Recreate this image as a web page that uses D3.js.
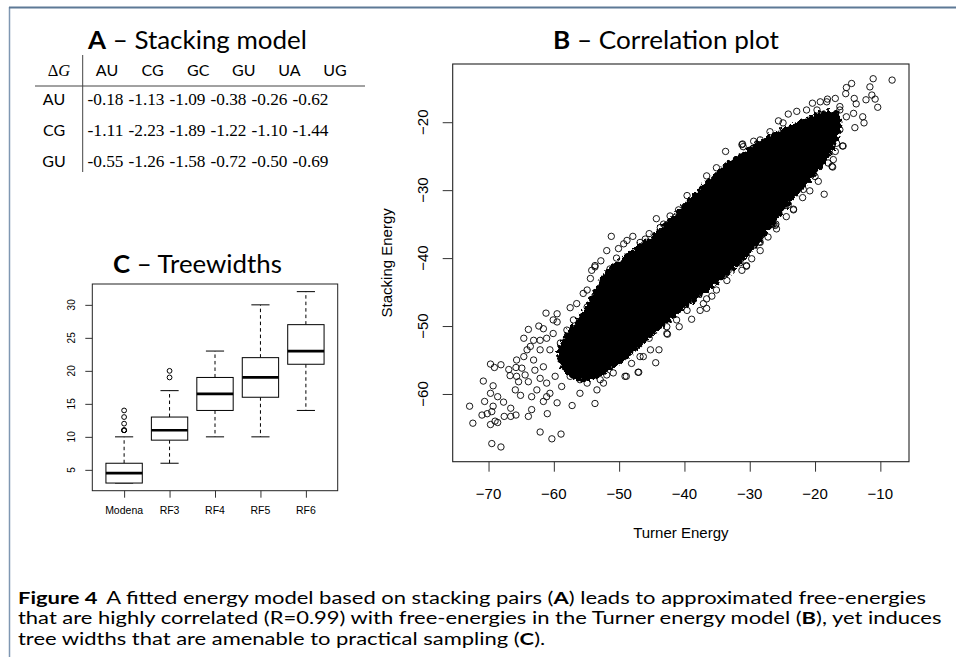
<!DOCTYPE html>
<html><head><meta charset="utf-8">
<script src="https://cdn.jsdelivr.net/npm/d3@7"></script>
<style>body{margin:0;background:#fff;overflow:hidden}</style>
</head><body>
<svg id="c" width="956" height="657" xmlns="http://www.w3.org/2000/svg"></svg>
<script>
// ---------------- data ----------------
const stackCols = ["AU","CG","GC","GU","UA","UG"];
const stackRows = ["AU","CG","GU"];
const stackValues = [
  [-0.18,-1.13,-1.09,-0.38,-0.26,-0.62],
  [-1.11,-2.23,-1.89,-1.22,-1.10,-1.44],
  [-0.55,-1.26,-1.58,-0.72,-0.50,-0.69]
];
const twCategories = ["Modena","RF3","RF4","RF5","RF6"];
const twLowerWhisker = [3,6,10,10,14];
const twQ1 = [3,9.5,14,16,21];
const twMedian = [4.5,11,16.5,19,23];
const twQ3 = [6,13,19,22,27];
const twUpperWhisker = [10,17,23,30,32];
const twOutliers = [[11,11,11,12,13,14],[19,20],[],[],[]];
const twTicks = [5,10,15,20,25,30];
const turnerTicks = [-70,-60,-50,-40,-30,-20,-10];
const stackingTicks = [-60,-50,-40,-30,-20];
// individually visible points [Turner energy, Stacking energy]
const scatterPoints = [
 [-72.9,-61.8],[-72.4,-64.3],[-70.8,-58.1],[-69.7,-55.6],[-69.1,-56.1],[-68.1,-55.7],[-69.3,-58.8],[-69.7,-59.9],
 [-70.6,-61.1],[-69.3,-61.8],[-71.0,-63.1],[-70.2,-62.9],[-69.5,-62.6],[-69.7,-64.5],[-69.0,-64.0],[-68.6,-64.2],
 [-68.6,-60.4],[-67.7,-61.2],[-67.6,-63.3],[-66.6,-62.1],[-66.7,-57.3],[-66.9,-56.4],[-65.8,-56.1],[-66.6,-63.3],
 [-65.8,-63.1],[-65.9,-59.4],[-65.1,-60.2],[-65.4,-58.2],[-69.5,-67.3],[-68.1,-67.8],[-62.1,-65.6],[-60.3,-66.6],
 [-58.9,-65.9],[-53.7,-61.4],[-63.9,-63.3],[-63.4,-62.3],[-61.0,-62.9],[-64.6,-51.8],[-63.9,-50.5],[-62.3,-50.0],
 [-61.2,-48.1],[-60.1,-49.1],[-59.5,-48.2],[-57.5,-47.3],[-56.5,-46.7],[-54.4,-43.0],[-53.7,-41.1],[-52.8,-40.4],
 [-51.4,-41.6],[-50.4,-40.0],[-49.1,-57.4],[-47.0,-56.8],[-46.8,-54.5],[-55.5,-45.2],[-63.6,-53.0],[-64.4,-57.2],
 [-63.1,-55.0],[-62.1,-52.1],[-61.1,-51.8],[-62.6,-59.4],[-61.1,-60.4],[-59.5,-61.3],[-57.2,-61.7],[-56.0,-59.9],
 [-54.9,-58.4],[-51.9,-57.2],[-61.6,-61.1],[-63.4,-60.4],
 [-64.1,-53.5],[-63.1,-52.1],[-62.1,-53.5],[-62.9,-56.5],[-61.6,-56.0],[-60.6,-53.5],[-60.1,-51.1],[-59.0,-52.5],
 [-58.0,-50.6],[-58.5,-54.5],[-59.8,-57.4],[-61.1,-58.4],[-62.1,-57.7],[-58.8,-58.9],[-57.5,-57.4],[-57.0,-55.4],
 [-56.5,-53.5],[-56.0,-51.6],[-57.0,-49.1],[-55.5,-48.7],[-54.9,-47.2],[-54.4,-50.6],[-54.2,-53.5],[-54.9,-56.5],
 [-56.0,-57.9],[-64.6,-54.5],[-64.9,-56.2],[-63.9,-58.2],[-60.6,-59.9],[-59.5,-49.4],[-61.6,-50.4],[-65.7,-55.0],
 [-53.4,-59.4],[-52.9,-57.9],[-65.7,-57.4],
 [-8.2,-13.8],[-11.1,-13.6],[-11.6,-14.8],[-14.4,-14.3],[-15.2,-14.9],[-15.3,-15.8],[-14.0,-16.5],[-13.7,-17.3],
 [-12.2,-16.7],[-11.3,-16.0],[-10.8,-16.6],[-10.4,-17.8],[-12.7,-19.2],[-12.5,-20.1],[-13.9,-20.8],[-15.8,-23.5],
 [-16.7,-23.1],[-17.2,-25.5],[-17.4,-26.5],[-18.6,-30.6],[-19.5,-28.7],[-20.8,-30.1],[-21.9,-31.1],[-23.3,-32.8],
 [-24.4,-33.9],[-26.0,-35.0],[-28.4,-37.7],[-30.5,-41.1],[-16.9,-16.5],[-18.1,-16.6],[-19.2,-17.0],[-20.4,-17.2],
 [-22.8,-18.4],[-24.1,-18.8],[-25.6,-19.8],[-28.4,-22.6],[-29.4,-22.8],[-31.1,-23.2],[-33.7,-24.3],[-19.7,-18.2],
 [-15.2,-19.2],[-16.2,-18.2],[-14.1,-18.7],
 [-31.0,-23.6],[-26.9,-21.4],[-24.9,-20.1],[-21.3,-18.2],[-18.2,-17.0],[-16.2,-17.7],
 [-16.2,-21.1],[-16.9,-24.3],[-18.0,-26.0],[-20.0,-28.0],[-21.8,-29.9],[-24.1,-32.1],[-26.4,-34.3],[-28.7,-36.7],
 [-51.2,-36.8],[-47.9,-36.8],[-45.4,-36.4],[-44.3,-34.2],[-42.2,-33.8],[-40.9,-32.9],[-39.6,-30.8],[-49.3,-37.9],
 [-53.7,-41.3],[-54.9,-44.7],[-48.9,-57.4],[-47.1,-56.8],[-44.4,-55.4],[-45.2,-53.5],[-43.9,-53.5],[-42.6,-51.2],
 [-40.8,-50.1],[-38.9,-49.0],[-37.6,-47.7],[-36.6,-47.4],[-35.8,-45.6],[-36.6,-46.0],[-33.3,-41.8],[-31.5,-40.7],
 [-30.5,-41.2],[-28.5,-37.6],[-26.4,-35.0],[-45.4,-51.8],
 [-54.2,-41.8],[-51.9,-38.9],[-50.1,-38.6],[-48.8,-37.4],[-46.8,-37.7],[-46.0,-37.2],[-43.7,-35.5],[-43.2,-35.0],
 [-41.4,-34.0],[-39.9,-32.5],[-38.1,-31.6],[-37.1,-29.9],[-35.3,-29.1],[-34.5,-28.2],
 [-52.4,-58.4],[-50.9,-56.9],[-48.1,-55.5],[-46.3,-54.5],[-42.7,-50.1],[-41.2,-49.1],[-39.6,-47.7],[-37.1,-46.7],
 [-35.1,-44.7],[-33.5,-43.3],[-31.2,-41.8],[-29.7,-40.1],[-28.4,-38.9],[-27.2,-36.9],[-25.9,-35.7],
 [-31.2,-23.3],[-36.6,-27.9],[-35.1,-26.7],[-17.3,-26.6],[-15.7,-23.5],[-23.3,-32.9],[-26.1,-35.2],[-42.7,-51.1]
];
// outline of the region where circles overlap into a solid black mass
const denseCore = [
 [-58.5,-51.5],[-56,-48.3],[-54,-45],[-52,-41.8],[-50,-40.2],[-47.5,-38.4],[-44,-35.7],[-40.5,-32.4],[-37,-29],
 [-33.5,-25.9],[-29,-23],[-25,-20.9],[-21,-19.2],[-18,-18.2],[-16.3,-18.6],
 [-16,-20.7],[-17.1,-23.8],[-18.9,-26.7],[-21.7,-29.7],[-24.7,-33.1],[-28,-37.2],[-31,-40.5],[-35,-43.9],
 [-38.5,-46.4],[-42,-49.1],[-45.5,-52],[-49,-55],[-52.5,-57.2],[-55.5,-58.2],[-58.2,-57],[-59.5,-54.3]
];
const captionLines = [
  [["Figure 4",true],[" A fitted energy model based on stacking pairs (",false],["A",true],[") leads to approximated free-energies",false]],
  [["that are highly correlated (R=0.99) with free-energies in the Turner energy model (",false],["B",true],["), yet induces",false]],
  [["tree widths that are amenable to practical sampling (",false],["C",true],[").",false]]
];

// ---------------- drawing ----------------
const svg = d3.select("#c");
const SANS = "Lato, 'Open Sans', sans-serif";
const RFONT = "'Liberation Sans', Arial, sans-serif";
const SERIF = "'Liberation Serif', 'DejaVu Serif', serif";

function hscale(t, ax, s){
  t.attr("transform",`translate(${ax},0) scale(${s},1) translate(${-ax},0)`);
}
function fitMiddle(t, cxp, width){
  hscale(t, cxp, width/t.node().getComputedTextLength());
}

// frame
svg.append("line").attr("x1",9.5).attr("x2",9.5).attr("y1",7).attr("y2",657)
  .attr("stroke","#7f97b2").attr("stroke-width",1.5);
svg.append("line").attr("x1",9).attr("x2",956).attr("y1",7.5).attr("y2",7.5)
  .attr("stroke","#5d7996").attr("stroke-width",2);

// ---- Panel A ----
const gA = svg.append("g");
const tA = gA.append("text").attr("x",197.5).attr("y",49).attr("text-anchor","middle")
  .attr("font-family",SANS).attr("font-size",25).attr("fill","#000");
tA.append("tspan").attr("font-weight","bold").text("A");
tA.append("tspan").text(" – Stacking model");
fitMiddle(tA,197.5,219);

const hx = d3.scalePoint().domain(stackCols).range([107,335]);
const vx = d3.scalePoint().domain(stackCols).range([105.5,310.5]);
const ry = d3.scalePoint().domain(stackRows).range([99.5,161]);

const dg = gA.append("text").attr("x",59).attr("y",75.5).attr("text-anchor","middle")
  .attr("font-family",SERIF).attr("font-size",16.5);
dg.append("tspan").text("Δ");
dg.append("tspan").attr("font-style","italic").text("G");

gA.selectAll(".hdr").data(stackCols).join("text")
  .attr("x",d=>hx(d)).attr("y",75.5).attr("text-anchor","middle")
  .attr("font-family",SANS).attr("font-size",16).text(d=>d);
gA.selectAll(".rl").data(stackRows).join("text")
  .attr("x",54).attr("y",d=>ry(d)+5.5).attr("text-anchor","middle")
  .attr("font-family",SANS).attr("font-size",16).text(d=>d);
stackRows.forEach((r,i)=>{
  gA.selectAll(".v"+i).data(stackValues[i]).join("text")
    .attr("x",(d,j)=>vx(stackCols[j])).attr("y",ry(r)+5.5).attr("text-anchor","middle")
    .attr("font-family",SERIF).attr("font-size",16.5)
    .attr("textLength",36).attr("lengthAdjust","spacingAndGlyphs")
    .text(d=>d.toFixed(2));
});
gA.append("line").attr("x1",82.7).attr("x2",82.7).attr("y1",55).attr("y2",172)
  .attr("stroke","#444").attr("stroke-width",1);
gA.append("line").attr("x1",35).attr("x2",365).attr("y1",86).attr("y2",86)
  .attr("stroke","#444").attr("stroke-width",1);

// ---- Panel C : boxplot ----
const gC = svg.append("g");
const cL=92.3, cR=337.7, cT=284, cB=490.7;
const cx = d3.scaleLinear().domain([0.3,5.7]).range([cL,cR]);
const allTw = twLowerWhisker.concat(twUpperWhisker, ...twOutliers);
const twMin = d3.min(allTw), twMax = d3.max(allTw), twPad = (twMax-twMin)*0.04;
const cy = d3.scaleLinear().domain([twMin-twPad, twMax+twPad]).range([cB,cT]);

const tC = gC.append("text").attr("x",197.5).attr("y",273.5).attr("text-anchor","middle")
  .attr("font-family",SANS).attr("font-size",25);
tC.append("tspan").attr("font-weight","bold").text("C");
tC.append("tspan").text(" – Treewidths");
fitMiddle(tC,197.5,169);

const bw = 0.8;
twCategories.forEach((c,i)=>{
  const x0 = cx(i+1);
  const g = gC.append("g");
  g.append("line").attr("x1",x0).attr("x2",x0).attr("y1",cy(twQ3[i])).attr("y2",cy(twUpperWhisker[i]))
    .attr("stroke","#000").attr("stroke-dasharray","3.5,3").attr("stroke-width",1);
  g.append("line").attr("x1",x0).attr("x2",x0).attr("y1",cy(twQ1[i])).attr("y2",cy(twLowerWhisker[i]))
    .attr("stroke","#000").attr("stroke-dasharray","3.5,3").attr("stroke-width",1);
  const hw = (cx(1+bw/4)-cx(1));
  [twUpperWhisker[i], twLowerWhisker[i]].forEach(v=>{
    g.append("line").attr("x1",x0-hw).attr("x2",x0+hw).attr("y1",cy(v)).attr("y2",cy(v))
      .attr("stroke","#000").attr("stroke-width",1);
  });
  const bh = cx(1+bw/2)-cx(1);
  g.append("rect").attr("x",x0-bh).attr("width",2*bh)
    .attr("y",cy(twQ3[i])).attr("height",cy(twQ1[i])-cy(twQ3[i]))
    .attr("fill","#fff").attr("stroke","#000").attr("stroke-width",1);
  g.append("line").attr("x1",x0-bh).attr("x2",x0+bh).attr("y1",cy(twMedian[i])).attr("y2",cy(twMedian[i]))
    .attr("stroke","#000").attr("stroke-width",2.7);
  g.selectAll("circle").data(twOutliers[i]).join("circle")
    .attr("cx",x0).attr("cy",d=>cy(d)).attr("r",2.4)
    .attr("fill","none").attr("stroke","#000").attr("stroke-width",1);
});
gC.append("rect").attr("x",cL).attr("y",cT).attr("width",cR-cL).attr("height",cB-cT)
  .attr("fill","none").attr("stroke","#222").attr("stroke-width",1);
const cxAxis = gC.append("g").attr("transform",`translate(0,${cB})`)
  .call(d3.axisBottom(cx).tickValues(twCategories.map((d,i)=>i+1)).tickSize(7).tickFormat(""));
cxAxis.select(".domain").remove();
cxAxis.selectAll("line").attr("stroke","#333");
gC.selectAll(".cl").data(twCategories).join("text")
  .attr("x",(d,i)=>cx(i+1)).attr("y",514).attr("text-anchor","middle")
  .attr("font-family",RFONT).attr("font-size",10.5).text(d=>d);
const cyAxis = gC.append("g").attr("transform",`translate(${cL},0)`)
  .call(d3.axisLeft(cy).tickValues(twTicks).tickSize(7).tickFormat(""));
cyAxis.select(".domain").remove();
cyAxis.selectAll("line").attr("stroke","#333");
gC.selectAll(".ctl").data(twTicks).join("text")
  .attr("transform",d=>`translate(71.7,${cy(d)}) rotate(-90)`).attr("dy","0.35em")
  .attr("text-anchor","middle").attr("font-family",RFONT).attr("font-size",10).text(d=>d);

// ---- Panel B : scatter ----
const gB = svg.append("g");
const bL=452.7, bR=909, bT=64, bB=461.7;
const xe = d3.extent(scatterPoints,d=>d[0]), ye = d3.extent(scatterPoints,d=>d[1]);
const xp = (xe[1]-xe[0])*0.04, yp = (ye[1]-ye[0])*0.04;
const bx = d3.scaleLinear().domain([xe[0]-xp, xe[1]+xp]).range([bL,bR]);
const by = d3.scaleLinear().domain([ye[0]-yp, ye[1]+yp]).range([bB,bT]);

const defs = svg.append("defs");
defs.append("clipPath").attr("id","bclip").append("rect")
  .attr("x",bL).attr("y",bT).attr("width",bR-bL).attr("height",bB-bT);
const filt = defs.append("filter").attr("id","rough")
  .attr("x","-10%").attr("y","-10%").attr("width","120%").attr("height","120%");
filt.append("feTurbulence").attr("type","fractalNoise").attr("baseFrequency",0.3)
  .attr("numOctaves",2).attr("seed",7).attr("result","n");
filt.append("feDisplacementMap").attr("in","SourceGraphic").attr("in2","n")
  .attr("scale",9).attr("xChannelSelector","R").attr("yChannelSelector","G");

const area = d3.line().x(d=>bx(d[0])).y(d=>by(d[1])).curve(d3.curveCatmullRomClosed.alpha(0.5));
const plot = gB.append("g").attr("clip-path","url(#bclip)");
plot.append("path").attr("d",area(denseCore)).attr("fill","#000").attr("filter","url(#rough)");
plot.selectAll("circle").data(scatterPoints).join("circle")
  .attr("cx",d=>bx(d[0])).attr("cy",d=>by(d[1])).attr("r",3.2)
  .attr("fill","none").attr("stroke","#000").attr("stroke-width",0.9);

gB.append("rect").attr("x",bL).attr("y",bT).attr("width",bR-bL).attr("height",bB-bT)
  .attr("fill","none").attr("stroke","#222").attr("stroke-width",1.1);
const bxAxis = gB.append("g").attr("transform",`translate(0,${bB})`)
  .call(d3.axisBottom(bx).tickValues(turnerTicks).tickSize(10).tickFormat(""));
bxAxis.select(".domain").remove();
bxAxis.selectAll("line").attr("stroke","#333");
const byAxis = gB.append("g").attr("transform",`translate(${bL},0)`)
  .call(d3.axisLeft(by).tickValues(stackingTicks).tickSize(10).tickFormat(""));
byAxis.select(".domain").remove();
byAxis.selectAll("line").attr("stroke","#333");
const fmt = d => (d<0?"\u2212":"")+Math.abs(d);
gB.selectAll(".xtl").data(turnerTicks).join("text")
  .attr("x",d=>bx(d)).attr("y",499).attr("text-anchor","middle")
  .attr("font-family",RFONT).attr("font-size",15).text(fmt);
gB.selectAll(".ytl").data(stackingTicks).join("text")
  .attr("transform",d=>`translate(423,${by(d)}) rotate(-90)`).attr("dy","0.35em")
  .attr("text-anchor","middle").attr("font-family",RFONT).attr("font-size",15).text(fmt);
gB.append("text").attr("x",(bL+bR)/2).attr("y",538).attr("text-anchor","middle")
  .attr("font-family",RFONT).attr("font-size",15).text("Turner Energy");
gB.append("text").attr("transform",`translate(387,${(bT+bB)/2}) rotate(-90)`).attr("dy","0.35em")
  .attr("text-anchor","middle").attr("font-family",RFONT).attr("font-size",15).text("Stacking Energy");
const tB = gB.append("text").attr("x",666).attr("y",49).attr("text-anchor","middle")
  .attr("font-family",SANS).attr("font-size",25);
tB.append("tspan").attr("font-weight","bold").text("B");
tB.append("tspan").text(" – Correlation plot");
fitMiddle(tB,666,226);

// ---- caption (one common horizontal scale so line 2 spans 18..942) ----
const capY = [604, 624.5, 645];
const capTexts = captionLines.map((parts,i)=>{
  const t = svg.append("text").attr("x",18).attr("y",capY[i])
    .attr("font-family",SANS).attr("font-size",17.5).attr("fill","#000");
  parts.forEach((p,k)=>{
    const ts = t.append("tspan").attr("font-weight",p[1]?"bold":"normal").text(p[0]);
    if(i===0 && k===1) ts.attr("dx",3);
  });
  return t;
});
const capScale = 924 / capTexts[1].node().getComputedTextLength();
capTexts.forEach(t=>hscale(t,18,capScale));
</script>
</body></html>
